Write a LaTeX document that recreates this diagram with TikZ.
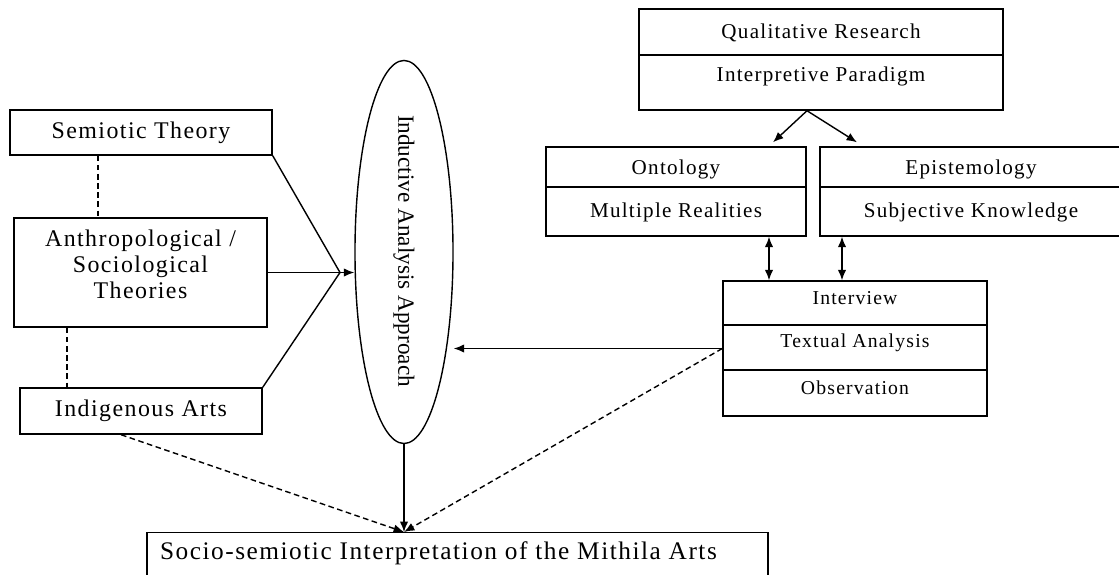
\documentclass[tikz,border=0pt]{standalone}
\usepackage{fontspec}
\setmainfont{Liberation Serif}[LetterSpace=6]
\newfontfamily\ellfont{Liberation Serif}
\usetikzlibrary{shapes.geometric,arrows.meta,positioning,calc}

\begin{document}
\begin{tikzpicture}[x=0.025cm, y=-0.025cm,
frame/.style={rectangle, draw, line width=1pt, inner sep=0pt},
lbl/.style={inner sep=1pt, font=\fontsize{15}{18}\selectfont},
biglbl/.style={inner sep=1pt, align=center, font=\fontsize{17}{18.5}\selectfont},
smalllbl/.style={inner sep=1pt, font=\fontsize{14}{17}\selectfont},
link/.style={line width=1pt},
tip/.style={-{Latex[length=2.6mm,width=2.1mm]}},
dual/.style={{Latex[length=2.6mm,width=2.1mm]}-{Latex[length=2.6mm,width=2.1mm]}},
dashline/.style={dash pattern=on 4pt off 2.5pt}]

\useasboundingbox (0,0) rectangle (1119,574);

% research paradigm
\node[frame, minimum width=9.1cm, minimum height=2.525cm] (qual) at (821,59.5) {};
\draw[line width=1pt] (qual.west |- 0,55) -- (qual.east |- 0,55);
\node[lbl] (qualTop) at (821,33) {Qualitative Research};
\node[lbl] (qualBot) at (821,76) {Interpretive Paradigm};

\node[frame, minimum width=6.5cm, minimum height=2.225cm] (onto) at (676,191.5) {};
\draw[line width=1pt] (onto.west |- 0,187) -- (onto.east |- 0,187);
\node[lbl] (ontoTop) at (676,169) {Ontology};
\node[lbl] (ontoBot) at (676,212) {Multiple Realities};

\node[frame, minimum width=7.75cm, minimum height=2.225cm] (epis) at (975,191.5) {};
\draw[line width=1pt] (epis.west |- 0,187) -- (epis.east |- 0,187);
\node[lbl] (episTop) at (971,169) {Epistemology};
\node[lbl] (episBot) at (971,212) {Subjective Knowledge};

% methods
\node[frame, minimum width=6.6cm, minimum height=3.375cm] (intv) at (855,348.5) {};
\draw[line width=1pt] (intv.west |- 0,325) -- (intv.east |- 0,325);
\draw[line width=1pt] (intv.west |- 0,370) -- (intv.east |- 0,370);
\node[smalllbl] (intvA) at (855,298) {Interview};
\node[smalllbl] (intvB) at (855,343) {Textual Analysis};
\node[smalllbl] (intvC) at (855,388) {Observation};

% theories
\node[frame, minimum width=6.55cm, minimum height=1.125cm, biglbl] (semio) at (141,132.5) {Semiotic Theory};
\node[frame, minimum width=6.325cm, minimum height=2.725cm] (anthro) at (140.5,272.5) {};
\node[biglbl] (anthroText) at (140.5,264) {Anthropological /\\Sociological\\Theories};
\node[frame, minimum width=6.05cm, minimum height=1.15cm, biglbl] (indig) at (141,411) {Indigenous Arts};

% approach
\node[ellipse, draw, line width=1pt, inner sep=0pt, minimum width=2.45cm, minimum height=9.575cm] (ell) at (404,252) {};
\node[rotate=-90, inner sep=0pt, font=\ellfont\fontsize{16.5}{19}\selectfont] (ellText) at (404,251) {Inductive Analysis Approach};

\node[frame, minimum width=15.525cm, minimum height=2cm, anchor=north] (interp) at (457.5,532) {};
\node[inner sep=1pt, font=\fontsize{18}{20}\selectfont] (interpText) at ($(interp.north)+(-19,21)$) {Socio-semiotic Interpretation of the Mithila Arts};

\coordinate (meet) at (340,272.5);
\coordinate (hub) at (interp.north -| ell.south);

\draw[link, tip] ([xshift=-0.35cm]qual.south) -- ([xshift=2.425cm, yshift=0.1cm]onto.north);
\draw[link, tip] ([xshift=-0.35cm]qual.south) -- ([xshift=-2.95cm, yshift=0.1cm]epis.north);
\draw[link, dual] (onto.south -| 769,0) -- (intv.north -| 769,0);
\draw[link, dual] (epis.south -| 842,0) -- (intv.north -| 842,0);
\draw[link, tip] (intv.west) -- (intv.west -| ell.east);

\draw[link, tip] (anthro.east) -- (anthro.east -| ell.west);
\draw[link] (semio.south east) -- (meet);
\draw[link] (indig.north east) -- (meet);
\draw[link, dashline] (semio.south -| 98,0) -- (anthro.north -| 98,0);
\draw[link, dashline] (anthro.south -| 67,0) -- (indig.north -| 67,0);

\draw[link, tip] (ell.south) -- (hub);
\draw[link, dashline, tip] (indig.south -| 121,0) -- (hub);
\draw[link, dashline, tip] (intv.west) -- (hub);

\end{tikzpicture}
\end{document}
